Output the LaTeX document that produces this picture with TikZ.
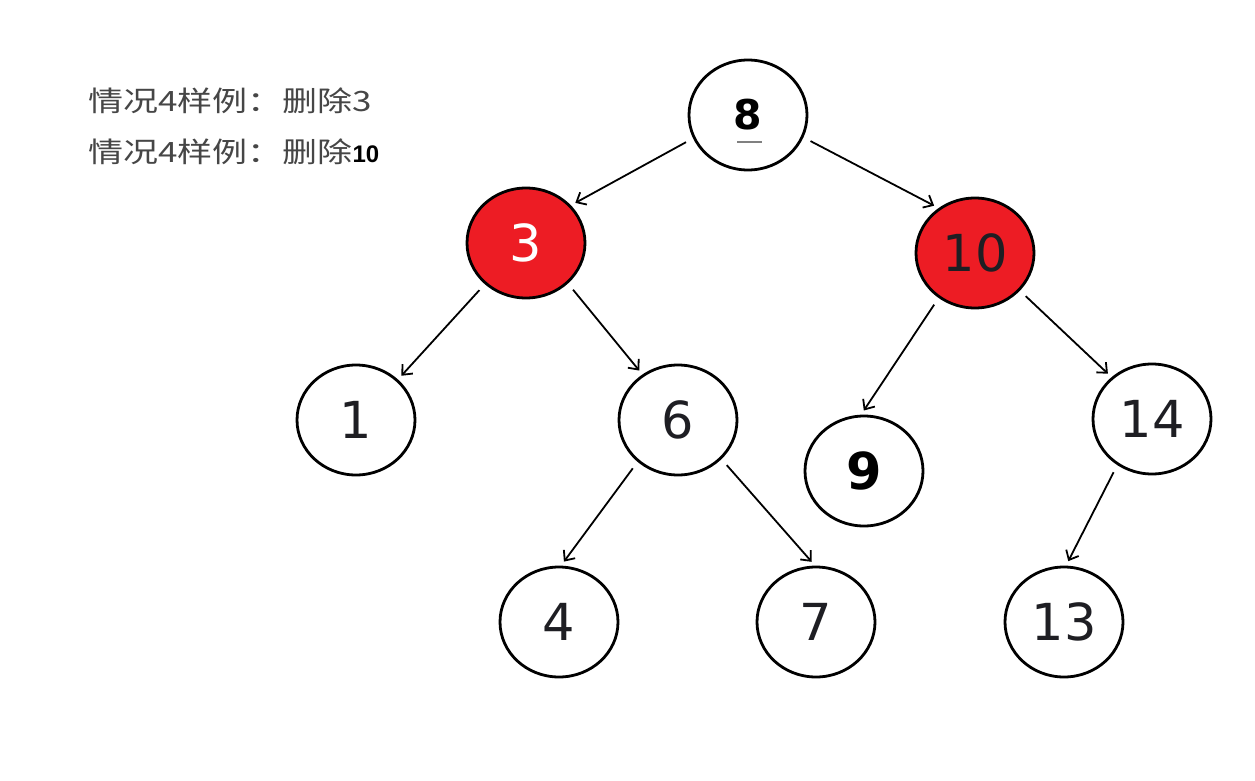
\documentclass[tikz,border=0pt]{standalone}
\usepackage{fontspec}
\setmainfont{DejaVu Sans}
\newfontfamily\cjk[FakeStretch=1.25]{Noto Sans CJK SC}
\newfontfamily\boldnum{Liberation Sans}
\usetikzlibrary{shapes.geometric,arrows.meta}
\definecolor{nodered}{RGB}{237,28,36}
\definecolor{txtgray}{RGB}{70,70,70}
\definecolor{numdark}{RGB}{30,30,35}
\begin{document}
\begin{tikzpicture}[x=1pt,y=-1pt,
  tnode/.style={ellipse,draw=black,line width=2.8pt,minimum width=118pt,minimum height=110pt,inner sep=0pt,
     font=\fontsize{51}{51}\selectfont,text=numdark},
  rednode/.style={tnode,fill=nodered},
  conn/.style={line width=1.8pt,-{Straight Barb[length=8pt,width=14pt,line width=1.8pt]},shorten <=8pt,shorten >=5pt},
  caption/.style={anchor=base west,inner sep=0pt,text=txtgray,font=\cjk\fontsize{28}{28}\selectfont}]
\useasboundingbox (0,0) rectangle (1255,781);
\fill[white] (0,0) rectangle (1255,781);
% captions
\node[caption] (cap1) at (88,112) {情况4样例：删除3};
\node[caption] (cap2) at (88,162) {情况4样例：删除{\boldnum\bfseries\fontsize{24}{24}\selectfont\color{black}10}};
% nodes
\node[tnode,font=\bfseries\fontsize{41}{41}\selectfont,text=black] (n8) at (748,115) {8};
\node[rednode,text=white] (n3) at (526,243) {3};
\node[rednode] (n10) at (975,253) {10};
\node[tnode] (n1) at (356,420) {1};
\node[tnode] (n6) at (678,420) {6};
\node[tnode,font=\bfseries\fontsize{51}{51}\selectfont,text=black] (n9) at (864,471) {9};
\node[tnode] (n14) at (1152,419) {14};
\node[tnode] (n4) at (559,622) {4};
\node[tnode] (n7) at (816,622) {7};
\node[tnode] (n13) at (1064,622) {13};
% small gray mark under 8
\draw[gray,line width=1.5pt] ([xshift=-11pt,yshift=-27pt]n8.center) -- ([xshift=14pt,yshift=-27pt]n8.center);
% connectors
\draw[conn] (n8.203) -- (n3.40);
\draw[conn] (n8.338) -- (n10.129);
\draw[conn] (n3.225) -- (n1.44);
\draw[conn] (n3.316) -- (n6.128);
\draw[conn] (n10.231) -- (n9.93);
\draw[conn] (n10.320) -- (n14.134);
\draw[conn] (n6.226) -- (n4.88);
\draw[conn] (n6.318) -- (n7.91);
\draw[conn] (n14.233) -- (n13.88);
\end{tikzpicture}
\end{document}
